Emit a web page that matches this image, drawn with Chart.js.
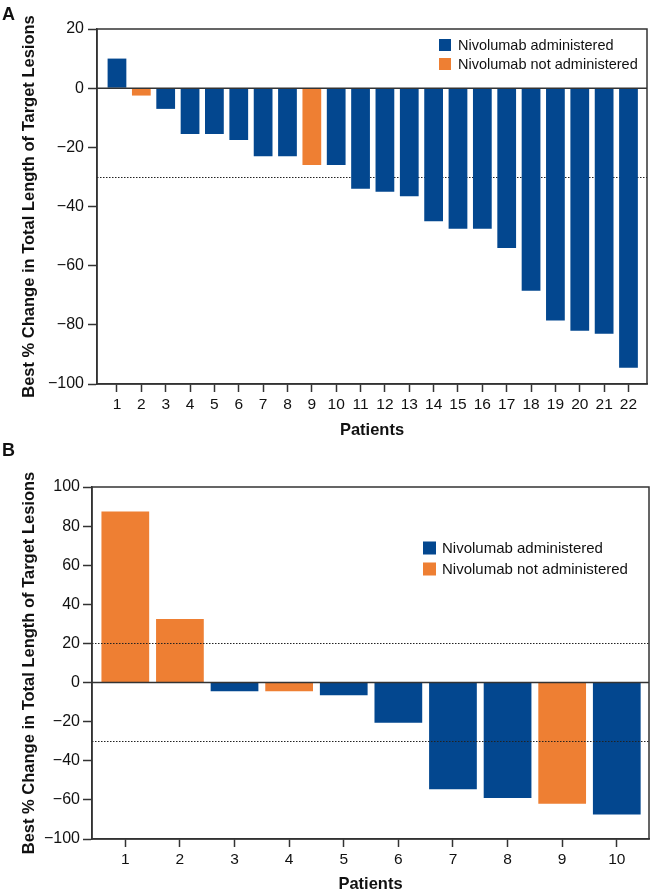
<!DOCTYPE html>
<html>
<head>
<meta charset="utf-8">
<script src="https://cdn.jsdelivr.net/npm/chart.js@4.4.0/dist/chart.umd.min.js"></script>
<style>
  body { margin: 0; background: #fff; }
  .panel { position: absolute; left: 0; }
  .tag { position: absolute; left: 2px; font: bold 18px "Liberation Sans", Arial, sans-serif; line-height: 18px; color: #111; }
</style>
</head>
<body>
<canvas id="chartA" class="panel" style="top:0" width="650" height="440"></canvas>
<canvas id="chartB" class="panel" style="top:440px" width="650" height="456"></canvas>
<div class="tag" style="top:5px">A</div>
<div class="tag" style="top:441px">B</div>

<script>
// panel A
const patientsA = [1, 2, 3, 4, 5, 6, 7, 8, 9, 10, 11, 12, 13, 14, 15, 16, 17, 18, 19, 20, 21, 22];
const changeA = [10, -2.5, -7, -15.5, -15.5, -17.5, -23, -23, -26, -26, -34, -35, -36.5, -45, -47.5, -47.5, -54, -68.5, -78.5, -82, -83, -94.5];
const givenA = [1, 0, 1, 1, 1, 1, 1, 1, 0, 1, 1, 1, 1, 1, 1, 1, 1, 1, 1, 1, 1, 1];
const yTicksA = [-100, -80, -60, -40, -20, 0, 20];
const refLinesA = [-30];

// panel B
const patientsB = [1, 2, 3, 4, 5, 6, 7, 8, 9, 10];
const changeB = [87.5, 32.5, -4.5, -4.5, -6.5, -20.5, -54.5, -59, -62, -67.5];
const givenB = [0, 0, 1, 0, 1, 1, 1, 1, 0, 1];
const yTicksB = [-80, -60, -40, -20, 0, 20, 40, 60, 80, 100];
const yTickLabelsB = ['−100', '−60', '−40', '−20', '0', '20', '40', '60', '80', '100'];
const refLinesB = [20, -30];

const seriesNames = ['Nivolumab administered', 'Nivolumab not administered'];
const seriesColors = ['#03478f', '#ee7f33'];

const FONT = '"Liberation Sans", Arial, sans-serif';
Chart.defaults.font.family = FONT;
Chart.defaults.color = '#111';

function barSets(patients, values, given, barPct) {
  return seriesNames.map((name, k) => ({
    type: 'bar',
    label: name,
    data: patients
      .map((p, i) => ({ x: p, y: values[i], g: given[i] }))
      .filter(d => d.g === (k === 0 ? 1 : 0)),
    backgroundColor: seriesColors[k],
    grouped: false,
    categoryPercentage: 1,
    barPercentage: barPct
  }));
}

// box round the plot, zero line and dotted reference lines
const framePlugin = {
  id: 'frame',
  drawRefs(chart) {
    const { ctx, chartArea, scales } = chart;
    const o = chart.options.plugins.frame;
    ctx.save();
    ctx.strokeStyle = '#222';
    ctx.lineWidth = 1.2;
    ctx.setLineDash([1.5, 1.5]);
    o.refs.forEach(v => {
      const y = Math.round(scales.y.getPixelForValue(v)) + 0.5;
      ctx.beginPath();
      ctx.moveTo(chartArea.left, y);
      ctx.lineTo(chartArea.right, y);
      ctx.stroke();
    });
    ctx.restore();
  },
  beforeDatasetsDraw(chart) {
    if (!chart.options.plugins.frame.refsOnTop) this.drawRefs(chart);
  },
  afterDatasetsDraw(chart) {
    const { ctx, chartArea, scales } = chart;
    if (chart.options.plugins.frame.refsOnTop) this.drawRefs(chart);
    ctx.save();
    ctx.strokeStyle = '#333';
    ctx.lineWidth = 1.5;
    const y0 = scales.y.getPixelForValue(0);
    ctx.beginPath();
    ctx.moveTo(chartArea.left, y0);
    ctx.lineTo(chartArea.right, y0);
    ctx.stroke();
    ctx.strokeRect(chartArea.left, chartArea.top, chartArea.right - chartArea.left, chartArea.bottom - chartArea.top);
    ctx.restore();
  }
};

// legend drawn inside the plot, top right
const boxLegend = {
  id: 'boxLegend',
  afterDraw(chart) {
    const { ctx, chartArea } = chart;
    const o = chart.options.plugins.boxLegend;
    const x = chartArea.right - o.fromRight;
    let y = chartArea.top + o.fromTop;
    ctx.save();
    ctx.font = o.fontSize + 'px ' + FONT;
    ctx.textBaseline = 'middle';
    chart.data.datasets.forEach(ds => {
      ctx.fillStyle = ds.backgroundColor;
      ctx.fillRect(x, y, o.box, o.box);
      ctx.fillStyle = '#111';
      ctx.fillText(ds.label, x + o.box + o.gap, y + o.box / 2 + 1);
      y += o.row;
    });
    ctx.restore();
  }
};

function makeChart(id, s) {
  return new Chart(document.getElementById(id), {
    type: 'bar',
    data: { datasets: barSets(s.patients, s.values, s.given, s.barPct) },
    plugins: [framePlugin, boxLegend],
    options: {
      responsive: false,
      animation: false,
      layout: { padding: s.padding },
      plugins: {
        legend: { display: false },
        tooltip: { enabled: false },
        frame: { refs: s.refs, refsOnTop: s.refsOnTop },
        boxLegend: s.legend
      },
      scales: {
        x: {
          type: 'linear',
          offset: false,
          min: s.xMin,
          max: s.xMax,
          afterBuildTicks: ax => { ax.ticks = s.patients.map(v => ({ value: v })); },
          afterFit: ax => { ax.height = s.xHeight; },
          grid: { offset: false, drawOnChartArea: false, tickLength: 8, tickColor: '#333', tickWidth: 1.5 },
          border: { color: '#333', width: 1.5 },
          ticks: { color: '#111', font: { size: 15.5 }, padding: 3, autoSkip: false, maxRotation: 0, callback: v => String(v) },
          title: { display: true, text: 'Patients', color: '#111', font: { size: 16.5, weight: 'bold' }, padding: { top: 0, bottom: s.titleBottom } }
        },
        y: {
          min: s.yTicks[0],
          max: s.yTicks[s.yTicks.length - 1],
          afterBuildTicks: ax => { ax.ticks = s.yTicks.map(v => ({ value: v })); },
          afterFit: ax => { ax.width = s.yWidth; },
          grid: { drawOnChartArea: false, tickLength: 9, tickColor: '#333', tickWidth: 1.5 },
          border: { color: '#333', width: 1.5 },
          ticks: { color: '#111', font: { size: 16 }, padding: s.yPad, callback: (v, i) => s.yLabels[i] },
          title: { display: true, text: 'Best % Change in Total Length of Target Lesions', color: '#111', font: { size: 16.5, weight: 'bold' }, padding: 0 }
        }
      }
    }
  });
}

makeChart('chartA', {
  patients: patientsA, values: changeA, given: givenA, barPct: 0.77,
  xMin: 0.18, xMax: 22.76,
  yTicks: yTicksA, yLabels: yTicksA.map(v => String(v).replace('-', '−')),
  refs: refLinesA, refsOnTop: false,
  padding: { top: 29, right: 3, left: 20, bottom: 0 },
  yWidth: 77, xHeight: 56, yPad: 4, titleBottom: 0,
  legend: { fromRight: 208, fromTop: 10, box: 12, gap: 7, row: 19, fontSize: 14.5 }
});

makeChart('chartB', {
  patients: patientsB, values: changeB, given: givenB, barPct: 0.874,
  xMin: 0.39, xMax: 10.59,
  yTicks: yTicksB, yLabels: yTickLabelsB,
  refs: refLinesB, refsOnTop: true,
  padding: { top: 47, right: 1, left: 20, bottom: 0 },
  yWidth: 72, xHeight: 57, yPad: 3, titleBottom: 2,
  legend: { fromRight: 226, fromTop: 54.5, box: 13, gap: 6, row: 21, fontSize: 15 }
});
</script>
</body>
</html>
